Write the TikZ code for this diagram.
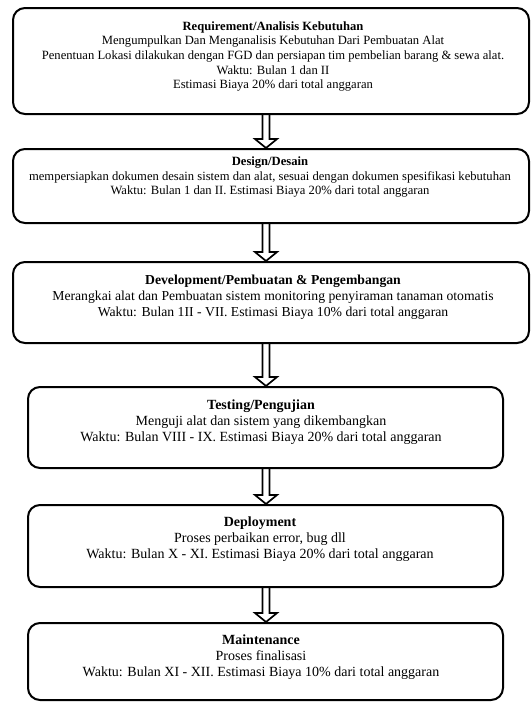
\documentclass[tikz,border=0pt]{standalone}
\usepackage{fontspec}
\setmainfont{Liberation Serif}
\usetikzlibrary{calc}
\begin{document}
\begin{tikzpicture}[x=1pt,y=-1pt,
  box/.style={draw, line width=2pt, rounded corners=12pt, inner sep=0pt},
  smalltxt/.style={font=\fontsize{12.6}{14.6}\selectfont, align=center, inner sep=0pt},
  midtxt/.style={font=\fontsize{13.7}{16.2}\selectfont, align=center, inner sep=0pt},
  bigtxt/.style={font=\fontsize{14}{16}\selectfont, align=center, inner sep=0pt},
  blockarrow/.style={line width=1.7pt, line join=miter,
    to path={let \p1=(\tikztostart), \p2=(\tikztotarget) in
      (\x1-3.5pt,\y1) -- (\x1-3.5pt,\y2+9pt) -- (\x1-11pt,\y2+9pt) -- (\x1,\y2)
      -- (\x1+11pt,\y2+9pt) -- (\x1+3.5pt,\y2+9pt) -- (\x1+3.5pt,\y1)}}]
\useasboundingbox (0,0) rectangle (531,702);
\coordinate (ax) at (266,0);
% boxes
\node[box, minimum width=516pt, minimum height=106pt] (b1) at (271,61) {};
\node[box, minimum width=516pt, minimum height=74pt] (b2) at (271,186) {};
\node[box, minimum width=516pt, minimum height=81pt] (b3) at (271,302.5) {};
\node[box, minimum width=475pt, minimum height=81pt] (b4) at (265.5,427.5) {};
\node[box, minimum width=475pt, minimum height=82pt] (b5) at (265.5,546) {};
\node[box, minimum width=475pt, minimum height=77pt] (b6) at (265.5,661.5) {};
% texts
\node[smalltxt] (t1) at (273,56.5) {\textbf{Requirement/Analisis Kebutuhan}\\
Mengumpulkan Dan Menganalisis Kebutuhan Dari Pembuatan Alat\\
Penentuan Lokasi dilakukan dengan FGD dan persiapan tim pembelian barang \& sewa alat.\\
Waktu: Bulan 1 dan II\\
Estimasi Biaya 20\% dari total anggaran};
\node[smalltxt] (t2) at (270,177) {\textbf{Design/Desain}\\
mempersiapkan dokumen desain sistem dan alat, sesuai dengan dokumen spesifikasi kebutuhan\\
Waktu: Bulan 1 dan II. Estimasi Biaya 20\% dari total anggaran};
\node[midtxt] (t3) at (273,297.5) {\textbf{Development/Pembuatan \& Pengembangan}\\
Merangkai alat dan Pembuatan sistem monitoring penyiraman tanaman otomatis\\
Waktu: Bulan 1II - VII. Estimasi Biaya 10\% dari total anggaran};
\node[bigtxt] (t4) at (261,422) {\textbf{Testing/Pengujian}\\
Menguji alat dan sistem yang dikembangkan\\
Waktu: Bulan VIII - IX. Estimasi Biaya 20\% dari total anggaran};
\node[bigtxt] (t5) at (260,539) {\textbf{Deployment}\\
Proses perbaikan error, bug dll\\
Waktu: Bulan X - XI. Estimasi Biaya 20\% dari total anggaran};
\node[bigtxt] (t6) at (261,657) {\textbf{Maintenance}\\
Proses finalisasi\\
Waktu: Bulan XI - XII. Estimasi Biaya 10\% dari total anggaran};
% arrows
\draw[blockarrow] (b1.south -| ax) to (b2.north -| ax);
\draw[blockarrow] (b2.south -| ax) to (b3.north -| ax);
\draw[blockarrow] (b3.south -| ax) to (b4.north -| ax);
\draw[blockarrow] (b4.south -| ax) to (b5.north -| ax);
\draw[blockarrow] (b5.south -| ax) to (b6.north -| ax);
\end{tikzpicture}
\end{document}
